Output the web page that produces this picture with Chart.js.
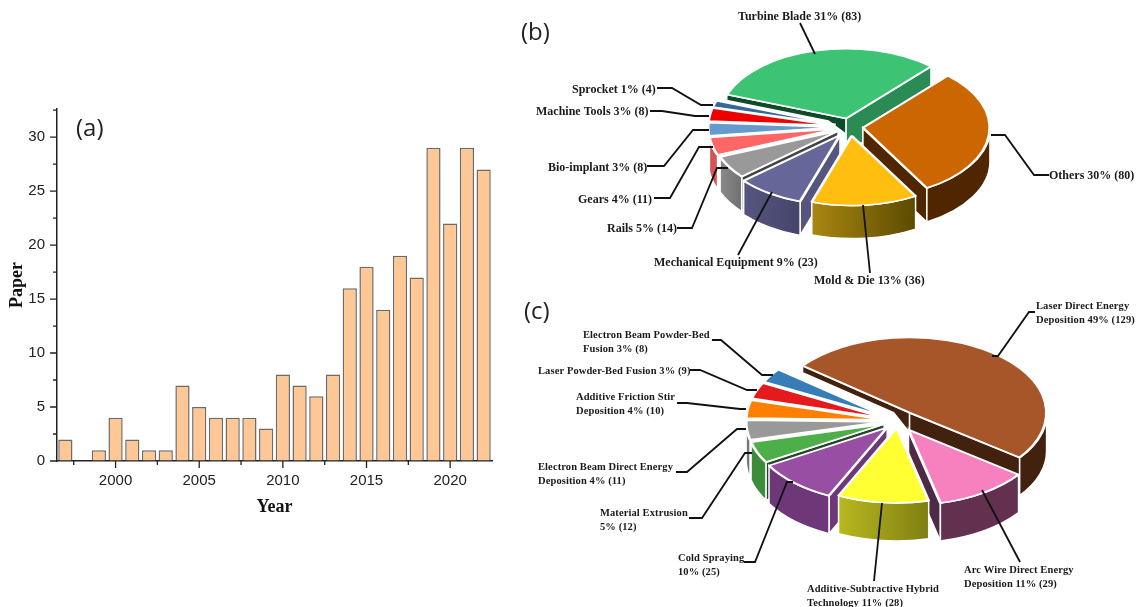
<!DOCTYPE html>
<html>
<head>
<meta charset="utf-8">
<title>Paper statistics</title>
<script src="https://cdn.jsdelivr.net/npm/chart.js@4"></script>
<style>
body { margin: 0; background: #fff; }
canvas { position: absolute; left: 0; top: 0; }
</style>
</head>
<body>
<canvas id="barA" width="1141" height="607"></canvas>
<canvas id="pieB" width="1141" height="607"></canvas>
<canvas id="pieC" width="1141" height="607"></canvas>
<script>
// (a) papers per year
const years = [1997,1998,1999,2000,2001,2002,2003,2004,2005,2006,2007,2008,2009,2010,2011,2012,2013,2014,2015,2016,2017,2018,2019,2020,2021,2022];
const papers = [2,0,1,4,2,1,1,7,5,4,4,4,3,8,7,6,8,16,18,14,19,17,29,22,29,27];
const yearTicks = [1997.5,2000,2002.5,2005,2007.5,2010,2012.5,2015,2017.5,2020];
const paperTicks = [0,2.5,5,7.5,10,12.5,15,17.5,20,22.5,25,27.5,30,32.5];

// (b) applications
const appLabels = ['Turbine Blade 31% (83)','Others 30% (80)','Mold & Die 13% (36)','Mechanical Equipment 9% (23)','Rails 5% (14)','Gears 4% (11)','Bio-implant 3% (8)','Machine Tools 3% (8)','Sprocket 1% (4)'];
const appValues = [83,80,36,23,14,11,8,8,4];
const appColors = ['#3cc373','#cc6600','#ffbe10','#666699','#999999','#ff6666','#6699cc','#ee0000','#336699'];
const appSideLeft = ['#2a8b55','#4f2600','#aa8712','#55557f','#8a8a8a','#d55555','#6699cc','#ee0000','#336699'];
const appSideRight = ['#2a8b55','#4f2600','#5c4a00','#45456b','#707070','#d55555','#6699cc','#ee0000','#336699'];
const appStartCut = ['#0f4a2a','#4f2600','#5c4a00','#55557f','#444444','#d55555','#6699cc','#ee0000','#336699'];
const appEndCut = ['#2a8b55','#4f2600','#5c4a00','#45456b','#707070','#d55555','#6699cc','#ee0000','#336699'];
const appShift = [16,13,16,18,14,15,15,15,15];
const appOuterDepth = [0,34,33,34,35,34,0,0,0];
const appStartDepth = [6,34,0,34,34,0,0,0,0];
const appHubDepth = [16,34,0,34,34,0,0,0,0];
const appEndDepth = [34,34,0,0,0,0,0,0,0];
const appSpots = [[738,20],[1049,179],[814,284],[654,266],[607,232],[578,203],[548,171],[536,115],[572,93]];
const appLeaders = [
	[[800,23],[815,54]],
	[[991,135],[1005,135],[1034,175],[1049,175]],
	[[863,205],[870,273]],
	[[772,192],[738,255]],
	[[728,168],[717,168],[692,228],[677,228]],
	[[713,147],[699,147],[670,198],[654,198]],
	[[709,130],[693,130],[664,166],[647,166]],
	[[709,116],[695,116],[662,111],[650,111]],
	[[713,105],[701,105],[672,88],[657,88]]
];

// (c) processes
const procLabels = ['Laser Direct Energy\nDeposition 49% (129)','Arc Wire Direct Energy\nDeposition 11% (29)','Additive-Subtractive Hybrid\nTechnology 11% (28)','Cold Spraying\n10% (25)','Material Extrusion\n5% (12)','Electron Beam Direct Energy\nDeposition 4% (11)','Additive Friction Stir\nDeposition 4% (10)','Laser Powder-Bed Fusion 3% (9)','Electron Beam Powder-Bed\nFusion 3% (8)'];
const procValues = [129,29,28,25,12,11,10,9,8];
const procColors = ['#a65628','#f781bf','#ffff33','#984ea3','#4daf4a','#999999','#ff7f00','#e41a1c','#377eb8'];
const procSideLeft = ['#42210e','#63304f','#b8b820','#6e3778','#3c8c3a','#777777','#ff7f00','#e41a1c','#377eb8'];
const procSideRight = ['#42210e','#63304f','#7f7f12','#6e3778','#3c8c3a','#777777','#ff7f00','#e41a1c','#377eb8'];
const procStartCut = ['#42210e','#63304f','#7f7f12','#6e3778','#24452a','#777777','#ff7f00','#e41a1c','#377eb8'];
const procEndCut = ['#42210e','#4f2a46','#7f7f12','#6e3778','#3c8c3a','#777777','#ff7f00','#e41a1c','#377eb8'];
const procShift = [19,19,12,16,15,15,15,15,15];
const procOuterDepth = [38,38,38,38,38,38,0,0,0];
const procStartDepth = [7,0,0,38,38,0,0,0,0];
const procHubDepth = [20,0,0,38,38,0,0,0,0];
const procEndDepth = [38,38,0,0,0,0,0,0,0];
const procSpots = [[1036,309],[964,573],[807,592],[678,561],[600,516],[538,470],[576,400],[538,374],[583,338]];
const procLeaders = [
	[[992,356],[998,356],[1029,312],[1035,312]],
	[[1020,562],[982,490]],
	[[874,581],[882,503]],
	[[744,562],[755,562],[787,482],[793,482]],
	[[689,518],[702,518],[745,453],[752,453]],
	[[676,472],[687,472],[737,429],[746,429]],
	[[677,403],[687,403],[740,409],[746,409]],
	[[690,370],[700,370],[747,390],[757,390]],
	[[712,340],[721,340],[762,375],[773,375]]
];

const serif = '"Liberation Serif", serif';

const axisTicks = {
	id: 'axisTicks',
	afterDraw(chart) {
		const ctx = chart.ctx;
		const x = chart.scales.x, y = chart.scales.y;
		ctx.save();
		ctx.strokeStyle = '#222';
		ctx.lineWidth = 1.3;
		ctx.beginPath();
		x.ticks.forEach(t => {
			const p = x.getPixelForValue(t.value);
			ctx.moveTo(p, y.bottom);
			ctx.lineTo(p, y.bottom + (t.value % 5 === 0 ? 7 : 4));
		});
		y.ticks.forEach(t => {
			const p = y.getPixelForValue(t.value);
			ctx.moveTo(x.left, p);
			ctx.lineTo(x.left - (t.value % 5 === 0 ? 7 : 4), p);
		});
		ctx.stroke();
		ctx.fillStyle = '#222';
		ctx.font = '24px "Open Sans"';
		ctx.textBaseline = 'middle';
		ctx.fillText('(a)', 76, 129);
		ctx.restore();
	}
};

new Chart(document.querySelector('#barA').getContext('2d'), {
	type: 'bar',
	data: {
		datasets: [{
			data: years.map((year, i) => ({x: year, y: papers[i]})),
			backgroundColor: '#fdc896',
			borderColor: '#6e6a66',
			borderWidth: 1.5,
			categoryPercentage: 1,
			barPercentage: 0.85
		}]
	},
	options: {
		responsive: false,
		animation: false,
		layout: {padding: {top: 109, left: 0, right: 649, bottom: 80}},
		plugins: {legend: {display: false}, tooltip: {enabled: false}},
		scales: {
			x: {
				type: 'linear',
				min: 1996.5,
				max: 2022.5,
				offset: false,
				grid: {display: true, offset: false, drawOnChartArea: false, drawTicks: false},
				border: {color: '#222', width: 1.5},
				afterBuildTicks: s => { s.ticks = yearTicks.map(v => ({value: v})); },
				afterFit: s => { s.height = 66; },
				ticks: {
					autoSkip: false,
					maxRotation: 0,
					padding: 11,
					color: '#222',
					font: {family: '"Liberation Sans"', size: 15},
					callback: v => (v % 5 === 0 ? String(v) : '')
				},
				title: {display: true, text: 'Year', color: '#111', padding: 9, font: {family: serif, size: 18, weight: 'bold'}}
			},
			y: {
				min: 0,
				max: 32.6,
				grid: {display: true, drawOnChartArea: false, drawTicks: false},
				border: {color: '#222', width: 1.5},
				afterBuildTicks: s => { s.ticks = paperTicks.map(v => ({value: v})); },
				afterFit: s => { s.width = 57; },
				ticks: {
					autoSkip: false,
					padding: 12,
					color: '#222',
					font: {family: '"Liberation Sans"', size: 15},
					callback: v => (v % 5 === 0 ? String(v) : '')
				},
				title: {display: true, text: 'Paper', color: '#111', padding: 7, font: {family: serif, size: 18, weight: 'bold'}}
			}
		}
	},
	plugins: [axisTicks]
});

function polygon(ctx, points, color) {
	ctx.beginPath();
	points.forEach((p, i) => (i ? ctx.lineTo(p[0], p[1]) : ctx.moveTo(p[0], p[1])));
	ctx.closePath();
	ctx.fillStyle = color;
	ctx.fill();
	ctx.stroke();
}

// one tilted pie: the arcs come from Chart.js, squashed by K, the walls are drawn under them
function tiltedPie(id, p) {
	const K = p.tilt;
	const explode = {
		id: 'explode',
		afterDatasetsUpdate(chart) {
			chart.getDatasetMeta(0).data.forEach((arc, i) => {
				const mid = (arc.startAngle + arc.endAngle) / 2;
				arc.x += Math.cos(mid) * p.shift[i];
				arc.y += Math.sin(mid) * p.shift[i];
			});
		},
		beforeDatasetsDraw(chart) {
			const ctx = chart.ctx;
			const arcs = chart.getDatasetMeta(0).data;
			const midY = a => Math.sin((a.startAngle + a.endAngle) / 2);
			const order = arcs.map((a, i) => i).sort((a, b) => midY(arcs[a]) - midY(arcs[b]));
			ctx.save();
			ctx.strokeStyle = '#fff';
			ctx.lineWidth = 1.5;
			order.forEach(i => {
				const arc = arcs[i];
				const R = arc.outerRadius;
				const x = arc.x, y = p.cy + K * (arc.y - p.cy);
				const rim = a => [x + R * Math.cos(a), y + R * K * Math.sin(a)];
				const down = (pt, d) => [pt[0], pt[1] + d];
				if (p.startDepth[i]) {
					const out = rim(arc.startAngle);
					const near = [x + (out[0] - x) * 0.15, y + (out[1] - y) * 0.15];
					polygon(ctx, [[x, y], out, down(out, p.startDepth[i]), down(near, p.startDepth[i]), down([x, y], p.hubDepth[i])], p.startCut[i]);
				}
				if (p.endDepth[i]) {
					const out = rim(arc.endAngle);
					polygon(ctx, [[x, y], out, down(out, p.endDepth[i]), down([x, y], p.endDepth[i])], p.endCut[i]);
				}
				const lo = Math.max(arc.startAngle, 0), hi = Math.min(arc.endAngle, Math.PI);
				if (p.outerDepth[i] && hi > lo) {
					const xs = [rim(lo)[0], rim(hi)[0]];
					const grad = ctx.createLinearGradient(Math.min(xs[0], xs[1]), 0, Math.max(xs[0], xs[1]), 0);
					grad.addColorStop(0, p.sideLeft[i]);
					grad.addColorStop(1, p.sideRight[i]);
					ctx.beginPath();
					ctx.ellipse(x, y, R, R * K, 0, lo, hi);
					ctx.ellipse(x, y + p.outerDepth[i], R, R * K, 0, hi, lo, true);
					ctx.closePath();
					ctx.fillStyle = grad;
					ctx.fill();
					ctx.stroke();
				}
			});
			ctx.restore();
			ctx.save();
			ctx.translate(0, p.cy);
			ctx.scale(1, K);
			ctx.translate(0, -p.cy);
		},
		afterDatasetsDraw(chart) {
			chart.ctx.restore();
		},
		afterDraw(chart) {
			const ctx = chart.ctx;
			ctx.save();
			ctx.strokeStyle = '#111';
			ctx.lineWidth = 1.8;
			p.leaders.forEach(line => {
				ctx.beginPath();
				line.forEach((pt, i) => (i ? ctx.lineTo(pt[0], pt[1]) : ctx.moveTo(pt[0], pt[1])));
				ctx.stroke();
			});
			ctx.fillStyle = '#1a1a1a';
			ctx.font = 'bold ' + p.fontSize + 'px ' + serif;
			ctx.letterSpacing = p.letterSpacing;
			p.labels.forEach((label, i) => {
				label.split('\n').forEach((line, j) => {
					ctx.fillText(line, p.spots[i][0], p.spots[i][1] + j * p.lineGap);
				});
			});
			ctx.letterSpacing = '0px';
			ctx.fillStyle = '#222';
			ctx.font = '24px "Open Sans"';
			ctx.textBaseline = 'middle';
			ctx.fillText(p.panel, p.panelAt[0], p.panelAt[1]);
			ctx.restore();
		}
	};
	new Chart(document.querySelector(id).getContext('2d'), {
		type: 'pie',
		data: {
			labels: p.labels,
			datasets: [{
				data: p.values,
				backgroundColor: p.colors,
				borderColor: '#fff',
				borderWidth: 3,
				clip: false
			}]
		},
		options: {
			responsive: false,
			animation: false,
			rotation: p.rotation,
			radius: p.radius,
			layout: {padding: {
				left: Math.max(2 * p.cx - 1141, 0),
				right: Math.max(1141 - 2 * p.cx, 0),
				top: Math.max(2 * p.cy - 607, 0),
				bottom: Math.max(607 - 2 * p.cy, 0)
			}},
			plugins: {legend: {display: false}, tooltip: {enabled: false}}
		},
		plugins: [explode]
	});
}

tiltedPie('#pieB', {
	labels: appLabels, values: appValues, colors: appColors,
	sideLeft: appSideLeft, sideRight: appSideRight, startCut: appStartCut, endCut: appEndCut,
	shift: appShift, outerDepth: appOuterDepth, startDepth: appStartDepth, hubDepth: appHubDepth, endDepth: appEndDepth,
	spots: appSpots, leaders: appLeaders,
	cx: 850, cy: 127, radius: 127, tilt: 0.55, rotation: -70,
	fontSize: 12, letterSpacing: '0px', lineGap: 14,
	panel: '(b)', panelAt: [521, 33]
});

tiltedPie('#pieC', {
	labels: procLabels, values: procValues, colors: procColors,
	sideLeft: procSideLeft, sideRight: procSideRight, startCut: procStartCut, endCut: procEndCut,
	shift: procShift, outerDepth: procOuterDepth, startDepth: procStartDepth, hubDepth: procHubDepth, endDepth: procEndDepth,
	spots: procSpots, leaders: procLeaders,
	cx: 898, cy: 421, radius: 137, tilt: 0.55, rotation: -51.4,
	fontSize: 10.5, letterSpacing: '0.1px', lineGap: 14,
	panel: '(c)', panelAt: [524, 312]
});
</script>
</body>
</html>
